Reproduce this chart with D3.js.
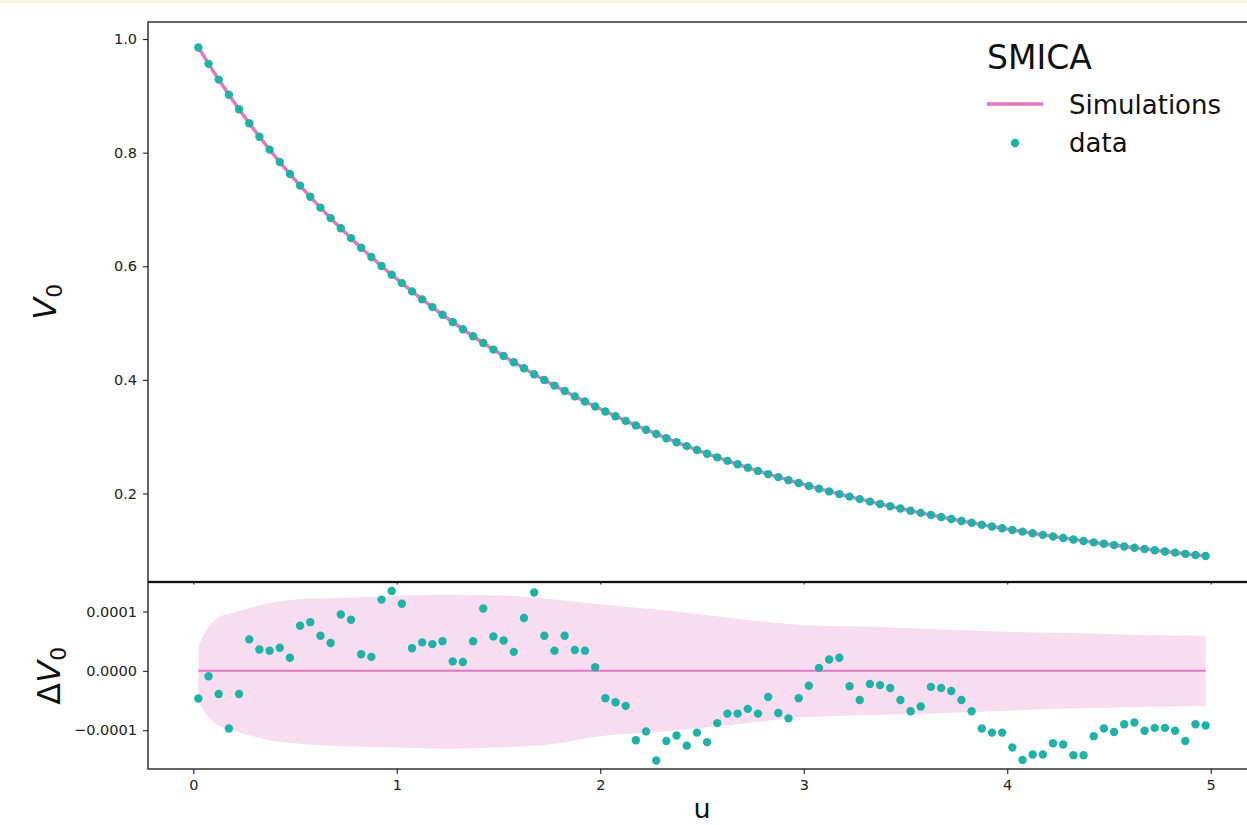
<!DOCTYPE html>
<html><head><meta charset="utf-8">
<script src="https://cdn.jsdelivr.net/npm/d3@7"></script>
<style>
body{margin:0;background:#fff;}
svg{display:block;font-family:"DejaVu Sans",sans-serif;}
</style>
</head><body>
<svg id="c" width="1247" height="825"></svg>
<script>
// ---- data ----
const uVals = [0.025,0.075,0.125,0.175,0.225,0.275,0.325,0.375,0.425,0.475,
0.525,0.575,0.625,0.675,0.725,0.775,0.825,0.875,0.925,0.975,
1.025,1.075,1.125,1.175,1.225,1.275,1.325,1.375,1.425,1.475,
1.525,1.575,1.625,1.675,1.725,1.775,1.825,1.875,1.925,1.975,
2.025,2.075,2.125,2.175,2.225,2.275,2.325,2.375,2.425,2.475,
2.525,2.575,2.625,2.675,2.725,2.775,2.825,2.875,2.925,2.975,
3.025,3.075,3.125,3.175,3.225,3.275,3.325,3.375,3.425,3.475,
3.525,3.575,3.625,3.675,3.725,3.775,3.825,3.875,3.925,3.975,
4.025,4.075,4.125,4.175,4.225,4.275,4.325,4.375,4.425,4.475,
4.525,4.575,4.625,4.675,4.725,4.775,4.825,4.875,4.925,4.975];

const dataV0 = [0.9852,0.9563,0.9286,0.9020,0.8764,0.8518,0.8281,0.8053,0.7834,0.7623,
0.7419,0.7223,0.7032,0.6847,0.6668,0.6495,0.6326,0.6163,0.6005,0.5852,
0.5703,0.5558,0.5417,0.5281,0.5147,0.5018,0.4892,0.4769,0.4650,0.4533,
0.4420,0.4310,0.4203,0.4099,0.3998,0.3899,0.3803,0.3709,0.3618,0.3530,
0.3443,0.3360,0.3278,0.3198,0.3121,0.3046,0.2973,0.2902,0.2833,0.2765,
0.2700,0.2636,0.2574,0.2513,0.2454,0.2397,0.2341,0.2287,0.2234,0.2183,
0.2132,0.2084,0.2036,0.1989,0.1944,0.1900,0.1857,0.1815,0.1774,0.1735,
0.1696,0.1658,0.1621,0.1585,0.1550,0.1516,0.1483,0.1450,0.1418,0.1387,
0.1357,0.1328,0.1299,0.1271,0.1243,0.1216,0.1190,0.1164,0.1139,0.1115,
0.1091,0.1067,0.1044,0.1022,0.1000,0.0979,0.0958,0.0937,0.0917,0.0898];

// residuals data - simulations (in V0 units)
const deltaV0 = [-4.65e-5,-0.9e-5,-3.9e-5,-9.7e-5,-3.9e-5,5.3e-5,3.6e-5,3.4e-5,3.9e-5,2.2e-5,
7.6e-5,8.2e-5,5.9e-5,4.7e-5,9.5e-5,8.6e-5,2.8e-5,2.35e-5,12.0e-5,13.45e-5,
11.3e-5,3.8e-5,4.8e-5,4.5e-5,5.0e-5,1.6e-5,1.5e-5,5.0e-5,10.5e-5,5.8e-5,
5.1e-5,3.2e-5,8.9e-5,13.2e-5,5.9e-5,3.4e-5,5.9e-5,3.5e-5,3.4e-5,0.6e-5,
-4.6e-5,-5.3e-5,-5.9e-5,-11.7e-5,-10.2e-5,-15.1e-5,-11.8e-5,-10.9e-5,-12.6e-5,-10.4e-5,
-12.0e-5,-8.8e-5,-7.2e-5,-7.2e-5,-6.4e-5,-7.2e-5,-4.4e-5,-7.1e-5,-8.0e-5,-4.6e-5,
-2.5e-5,0.5e-5,1.9e-5,2.2e-5,-2.6e-5,-4.9e-5,-2.2e-5,-2.4e-5,-2.9e-5,-4.9e-5,
-6.8e-5,-6.0e-5,-2.7e-5,-2.9e-5,-3.4e-5,-4.9e-5,-6.8e-5,-9.7e-5,-10.4e-5,-10.4e-5,
-12.9e-5,-15.0e-5,-14.1e-5,-14.1e-5,-12.2e-5,-12.4e-5,-14.2e-5,-14.2e-5,-11.0e-5,-9.7e-5,
-10.3e-5,-9.0e-5,-8.7e-5,-10.1e-5,-9.6e-5,-9.6e-5,-10.1e-5,-11.8e-5,-9.0e-5,-9.2e-5];

// simulation spread band
const bandU  = [0.025,0.075,0.125,0.175,0.25,0.35,0.5,0.75,1.0,1.25,1.5,1.75,2.0,2.25,2.5,2.75,3.0,3.25,3.5,3.75,4.0,4.25,4.5,4.75,4.975];
const bandHi = [0.42e-4,0.74e-4,0.90e-4,0.96e-4,1.03e-4,1.12e-4,1.20e-4,1.23e-4,1.26e-4,1.28e-4,1.27e-4,1.21e-4,1.12e-4,1.04e-4,0.95e-4,0.85e-4,0.77e-4,0.75e-4,0.72e-4,0.69e-4,0.66e-4,0.64e-4,0.62e-4,0.60e-4,0.59e-4];
const bandLo = [-0.52e-4,-0.78e-4,-0.92e-4,-0.98e-4,-1.06e-4,-1.15e-4,-1.22e-4,-1.27e-4,-1.29e-4,-1.31e-4,-1.29e-4,-1.24e-4,-1.10e-4,-1.04e-4,-0.96e-4,-0.87e-4,-0.78e-4,-0.75e-4,-0.73e-4,-0.70e-4,-0.67e-4,-0.64e-4,-0.62e-4,-0.60e-4,-0.59e-4];

const xTicks = [0,1,2,3,4,5];
const yTopTicks = [0.2,0.4,0.6,0.8,1.0];
const yBotTicks = [-0.0001,0,0.0001];
const yBotTickLabels = ["\u22120.0001","0.0000","0.0001"];
const legendTitle = "SMICA";
const seriesNames = ["Simulations","data"];

// ---- layout ----
const TEAL = "#1fb2a6", PINK = "#e377c2";
const L = 148, R = 1256, T1 = 22, B1 = 581.5, T2 = 582.5, B2 = 769;
const svg = d3.select("#c");

svg.append("rect").attr("x",0).attr("y",0).attr("width",1247).attr("height",3).attr("fill","#fdf1e3");

const x = d3.scaleLinear().domain([-0.2225,5.2225]).range([L,R]);
const yTop = d3.scaleLinear().domain([0.045,1.030]).range([B1,T1]);
const yBot = d3.scaleLinear().domain([-1.653e-4,1.488e-4]).range([B2,T2]);

function styleAxis(g){
  g.selectAll(".domain").remove();
  g.selectAll(".tick line").attr("stroke","#222").attr("stroke-width",1.1);
  g.selectAll(".tick text").attr("fill","#222").attr("font-size","14.5px").attr("font-family","DejaVu Sans, sans-serif");
}

// ---- top panel ----
const topG = svg.append("g");
const simTop = uVals.map((uu,i)=>({u:uu, v:dataV0[i]-deltaV0[i]}));
topG.append("path").datum(simTop)
  .attr("fill","none").attr("stroke",PINK).attr("stroke-width",3.5)
  .attr("d", d3.line().x(d=>x(d.u)).y(d=>yTop(d.v)));
topG.selectAll("circle").data(uVals).join("circle")
  .attr("cx",d=>x(d)).attr("cy",(d,i)=>yTop(dataV0[i])).attr("r",4.2).attr("fill",TEAL);

topG.append("g").attr("transform",`translate(${L},0)`)
  .call(d3.axisLeft(yTop).tickValues(yTopTicks).tickFormat(d3.format(".1f")).tickSize(5).tickPadding(6))
  .call(styleAxis);
topG.append("g").attr("transform",`translate(0,${B1})`)
  .call(d3.axisBottom(x).tickValues(xTicks).tickFormat("").tickSize(3))
  .call(styleAxis);

// ---- bottom panel ----
const botG = svg.append("g");
const band = bandU.map((uu,i)=>({u:uu, hi:bandHi[i], lo:bandLo[i]}));
botG.append("path").datum(band)
  .attr("fill",PINK).attr("fill-opacity",0.25)
  .attr("d", d3.area().x(d=>x(d.u)).y0(d=>yBot(d.lo)).y1(d=>yBot(d.hi)).curve(d3.curveMonotoneX));
botG.append("line").attr("x1",x(uVals[0])).attr("x2",x(uVals[uVals.length-1]))
  .attr("y1",yBot(0)).attr("y2",yBot(0)).attr("stroke",PINK).attr("stroke-width",2);
botG.selectAll("circle").data(uVals).join("circle")
  .attr("cx",d=>x(d)).attr("cy",(d,i)=>yBot(deltaV0[i])).attr("r",4.2).attr("fill",TEAL);

botG.append("g").attr("transform",`translate(${L},0)`)
  .call(d3.axisLeft(yBot).tickValues(yBotTicks).tickFormat((d,i)=>yBotTickLabels[i]).tickSize(5).tickPadding(6))
  .call(styleAxis);
botG.append("g").attr("transform",`translate(0,${B2})`)
  .call(d3.axisBottom(x).tickValues(xTicks).tickFormat(d3.format("d")).tickSize(5).tickPadding(6))
  .call(styleAxis);

// frames
svg.append("rect").attr("x",L).attr("y",T1).attr("width",R-L).attr("height",B1-T1)
  .attr("fill","none").attr("stroke","#111").attr("stroke-width",1.3);
svg.append("rect").attr("x",L).attr("y",T2).attr("width",R-L).attr("height",B2-T2)
  .attr("fill","none").attr("stroke","#111").attr("stroke-width",1.3);

// axis labels
const yl1 = svg.append("text").attr("transform",`translate(56,${(T1+B1)/2}) rotate(-90)`)
  .attr("text-anchor","middle").attr("font-size","32px").attr("fill","#111");
yl1.append("tspan").attr("font-style","italic").text("V");
yl1.append("tspan").attr("font-size","22px").attr("dy","6").text("0");

const yl2 = svg.append("text").attr("transform",`translate(60,${(T2+B2)/2}) rotate(-90)`)
  .attr("text-anchor","middle").attr("font-size","32px").attr("fill","#111");
yl2.append("tspan").text("\u0394");
yl2.append("tspan").attr("font-style","italic").text("V");
yl2.append("tspan").attr("font-size","22px").attr("dy","6").text("0");

svg.append("text").attr("x",(L+R)/2).attr("y",818).attr("text-anchor","middle")
  .attr("font-size","27px").attr("fill","#111").text("u");

// legend
const lg = svg.append("g");
lg.append("text").attr("x",987).attr("y",69).attr("font-size","33px").attr("fill","#111").text(legendTitle);
lg.append("line").attr("x1",987).attr("x2",1043).attr("y1",104).attr("y2",104).attr("stroke",PINK).attr("stroke-width",3.5);
lg.append("text").attr("x",1069).attr("y",114).attr("font-size","26px").attr("fill","#111").text(seriesNames[0]);
lg.append("circle").attr("cx",1015).attr("cy",143).attr("r",4.2).attr("fill",TEAL);
lg.append("text").attr("x",1069).attr("y",152).attr("font-size","26px").attr("fill","#111").text(seriesNames[1]);
</script>
</body></html>
